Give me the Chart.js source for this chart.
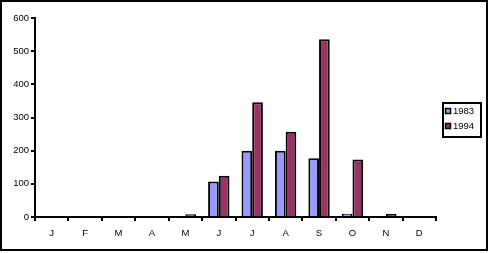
<!DOCTYPE html>
<html>
<head>
<meta charset="utf-8">
<script src="https://cdn.jsdelivr.net/npm/chart.js@4"></script>
<style>
html,body{margin:0;padding:0;background:#fff;}
#wrap{width:489px;height:253px;position:relative;}
</style>
</head>
<body>
<div id="wrap"><canvas id="c" width="489" height="253"></canvas></div>
<script>
const categories = ["J","F","M","A","M","J","J","A","S","O","N","D"];
const series1983 = [0,0,0,0,0,107,200,200,177,10,0,0];
const series1994 = [0,0,0,0,8,124,346,257,536,173,9,0];
const seriesNames = ["1983","1994"];
const yTicks = [0,100,200,300,400,500,600];

const FONT = '"Liberation Sans", Arial, sans-serif';

const frame = {
  id:'frame',
  afterDraw(chart){
    const ctx = chart.ctx;
    ctx.save();
    ctx.strokeStyle = '#000';
    ctx.lineWidth = 2;
    ctx.strokeRect(1,1,486,249);
    // legend
    ctx.strokeRect(443,103,38,34);
    ctx.font = '9.5px ' + FONT;
    ctx.textBaseline = 'middle';
    ctx.textAlign = 'left';
    chart.data.datasets.forEach((ds,i)=>{
      const y = 111 + i*15;
      ctx.fillStyle = ds.backgroundColor;
      ctx.fillRect(445.5,y-2.5,5,5);
      ctx.lineWidth = 1.5;
      ctx.strokeRect(445.5,y-2.5,5,5);
      ctx.fillStyle = '#000';
      ctx.fillText(ds.label, 453, y+0.5);
    });
    ctx.restore();
  }
};

new Chart(document.getElementById('c'), {
  type:'bar',
  data:{
    labels: categories,
    datasets:[
      {label:seriesNames[0], data:series1983, backgroundColor:'#9999FF', borderColor:'#000', borderWidth:2, borderSkipped:'bottom', categoryPercentage:0.64, barPercentage:1},
      {label:seriesNames[1], data:series1994, backgroundColor:'#993366', borderColor:'#000', borderWidth:2, borderSkipped:'bottom', categoryPercentage:0.64, barPercentage:1}
    ]
  },
  options:{
    responsive:false,
    animation:false,
    devicePixelRatio:1,
    layout:{padding:{left:0,top:18,right:53,bottom:0}},
    plugins:{legend:{display:false},tooltip:{enabled:false}},
    scales:{
      x:{
        offset:true,
        grid:{display:true,drawOnChartArea:false,drawTicks:true,tickLength:4,color:'#000',lineWidth:2,offset:true},
        border:{display:true,color:'#000',width:2},
        ticks:{color:'#000',font:{family:FONT,size:9.5},padding:7,maxRotation:0,autoSkip:false},
        afterFit(s){s.height = 36;}
      },
      y:{
        min:0,max:600,
        afterBuildTicks(s){ s.ticks = yTicks.map(v=>({value:v})); },
        grid:{display:true,drawOnChartArea:false,drawTicks:true,tickLength:4,color:'#000',lineWidth:2},
        border:{display:true,color:'#000',width:2},
        ticks:{color:'#000',font:{family:FONT,size:9.5},padding:2},
        afterFit(s){s.width = 35;}
      }
    }
  },
  plugins:[frame]
});
</script>
</body>
</html>
